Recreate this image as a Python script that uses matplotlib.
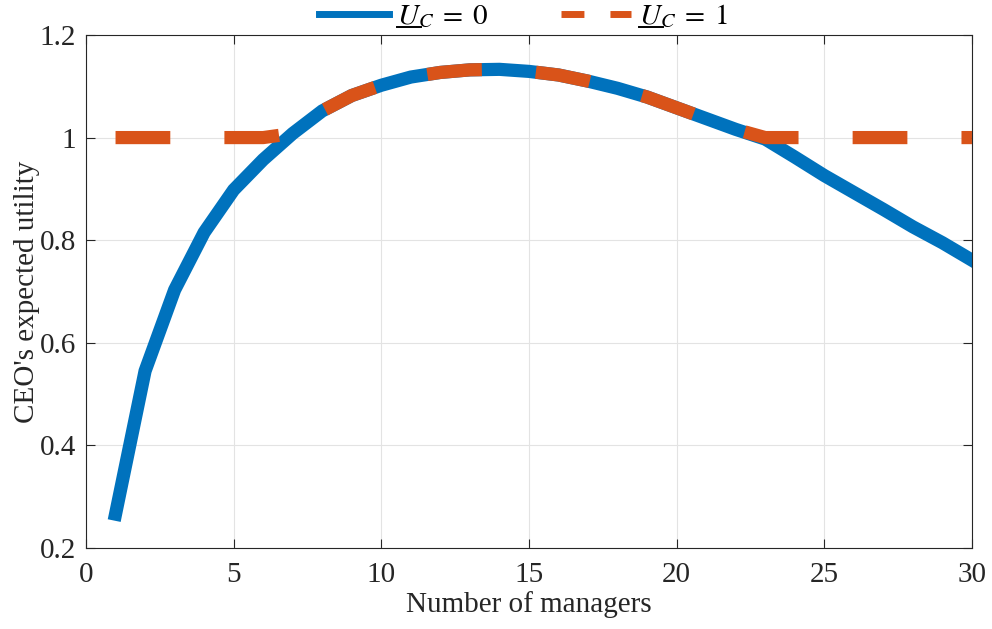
import numpy as np
import matplotlib
matplotlib.use('Agg')
import matplotlib.pyplot as plt
from matplotlib.lines import Line2D

# values
managers = np.arange(1, 31)
utility_u0 = [0.266, 0.545, 0.703, 0.815, 0.898, 0.957, 1.008, 1.052, 1.082, 1.102,
              1.118, 1.127, 1.132, 1.133, 1.129, 1.122, 1.110, 1.096, 1.079, 1.058,
              1.037, 1.016, 0.997, 0.962, 0.926, 0.893, 0.860, 0.826, 0.795, 0.761]
utility_u1 = [max(1.0, u) for u in utility_u0]

plt.rcParams['font.family'] = ['Liberation Serif', 'DejaVu Serif']
plt.rcParams['mathtext.fontset'] = 'stix'

blue = '#0072BD'
orange = '#D95319'
dark = '#262626'

fig = plt.figure(figsize=(9.92, 6.29), dpi=100)
ax = fig.add_axes([0.0867, 0.1288, 0.8931, 0.8156])

ax.plot(managers, utility_u0, color=blue, lw=9.5, solid_joinstyle='miter')
ax.plot(managers, utility_u1, color=orange, lw=9.5, dashes=(4.15, 4.1),
        dash_capstyle='butt')

ax.set_xlim(0, 30)
ax.set_ylim(0.2, 1.2)
ax.set_xticks([0, 5, 10, 15, 20, 25, 30])
ax.set_yticks([0.2, 0.4, 0.6, 0.8, 1.0, 1.2])
ax.set_yticklabels(['0.2', '0.4', '0.6', '0.8', '1', '1.2'])
ax.grid(True, color='#e3e3e3', lw=0.8)
ax.set_axisbelow(True)
ax.tick_params(direction='in', top=True, right=True, length=6.5, width=0.8,
               colors=dark, labelsize=21)
ax.tick_params(axis='y', pad=7)
ax.tick_params(axis='x', pad=10)
for s in ax.spines.values():
    s.set_color(dark)
    s.set_linewidth(0.8)

ax.set_xlabel('Number of managers', fontsize=21, color=dark, labelpad=2)
ax.set_ylabel("CEO's expected utility", fontsize=21, color=dark, labelpad=0)

# legend handles are drawn thinner than the data lines, as in the reference
h0 = Line2D([], [], color=blue, lw=5)
h1 = Line2D([], [], color=orange, lw=5, dashes=(3.3, 3.75), dash_capstyle='butt')
leg = ax.legend([h0, h1], [r'$U_C \;=\; 0$', r'$U_C \;=\; 1$'],
                loc='center', bbox_to_anchor=(0.494, 1.036), ncol=2, frameon=False,
                fontsize=21, handlelength=2.4, columnspacing=2.5, handletextpad=0.25,
                borderaxespad=0.0, borderpad=0.0)

# mathtext has no \underline, so draw the bar under U by hand
fig.canvas.draw()
renderer = fig.canvas.get_renderer()
for t in leg.get_texts():
    bb = t.get_window_extent(renderer)
    prop = t.get_fontproperties()
    _, _, desc = renderer.get_text_width_height_descent(t.get_text(), prop, ismath=True)
    uw, _, _ = renderer.get_text_width_height_descent('$U$', prop, ismath=True)
    base = bb.y0 + desc - 2.7
    x0, x1 = bb.x0, bb.x0 + uw
    fx0, fy = fig.transFigure.inverted().transform((x0, base))
    fx1, _ = fig.transFigure.inverted().transform((x1, base))
    fig.add_artist(Line2D([fx0, fx1], [fy, fy], color='black', lw=1.4,
                          transform=fig.transFigure))

fig.savefig('out.png', dpi=100)
